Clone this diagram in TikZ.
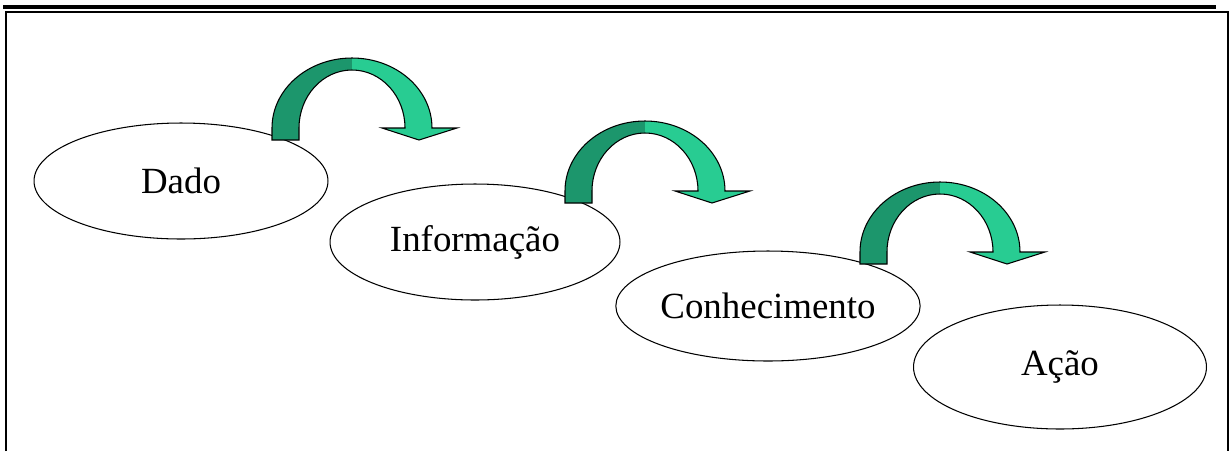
\documentclass[tikz,border=0pt]{standalone}
\usepackage{fontspec}
\setmainfont{Liberation Serif}
\usetikzlibrary{shapes.geometric, positioning, calc}

\definecolor{arcdark}{RGB}{28,150,108}
\definecolor{arclight}{RGB}{40,204,146}

\begin{document}
\begin{tikzpicture}[
  x=0.02cm, y=-0.02cm,
  stage/.style={draw, ellipse, line width=0.6pt, inner sep=0pt, font=\fontsize{21}{24}\selectfont},
  frameline/.style={line width=1.2pt}
]
  \useasboundingbox (0,0) rectangle (1231,451);

  % frame
  \draw[line width=1.8pt] (3,7) -- (1216,7);
  \draw[frameline] (6,451) -- (6,12) -- (1228,12) -- (1228,451);

  % stages
  \node[stage, minimum width=5.88cm, minimum height=2.32cm] (dado) at (181,181) {Dado};
  \node[stage, minimum width=5.80cm, minimum height=2.32cm] (info) at (475,242) {Informação};
  \node[stage, minimum width=5.88cm, minimum height=2.20cm] (conh) at (768,306) {Conhecimento};
  \node[stage, minimum width=5.86cm, minimum height=2.48cm] (acao) at (1060,367) {Ação};

  % curved arrows (centre x, base y)
  \foreach \cx/\by in {352/128, 645/191, 940/252} {
    \fill[arcdark] (\cx-80,\by+12) -- (\cx-80,\by) arc[start angle=180, end angle=90, x radius=80, y radius=-70]
      -- (\cx,\by-58) arc[start angle=90, end angle=180, x radius=53, y radius=-58] -- (\cx-53,\by+12) -- cycle;
    \fill[arclight] (\cx,\by-70) arc[start angle=90, end angle=0, x radius=80, y radius=-70]
      -- (\cx+105,\by) -- (\cx+67,\by+12) -- (\cx+30,\by) -- (\cx+53,\by)
      arc[start angle=0, end angle=90, x radius=53, y radius=-58] -- cycle;
    \draw[line width=0.6pt] (\cx-80,\by+12) -- (\cx-80,\by) arc[start angle=180, end angle=0, x radius=80, y radius=-70]
      -- (\cx+105,\by) -- (\cx+67,\by+12) -- (\cx+30,\by) -- (\cx+53,\by)
      arc[start angle=0, end angle=180, x radius=53, y radius=-58] -- (\cx-53,\by+12) -- cycle;
  }
\end{tikzpicture}
\end{document}
